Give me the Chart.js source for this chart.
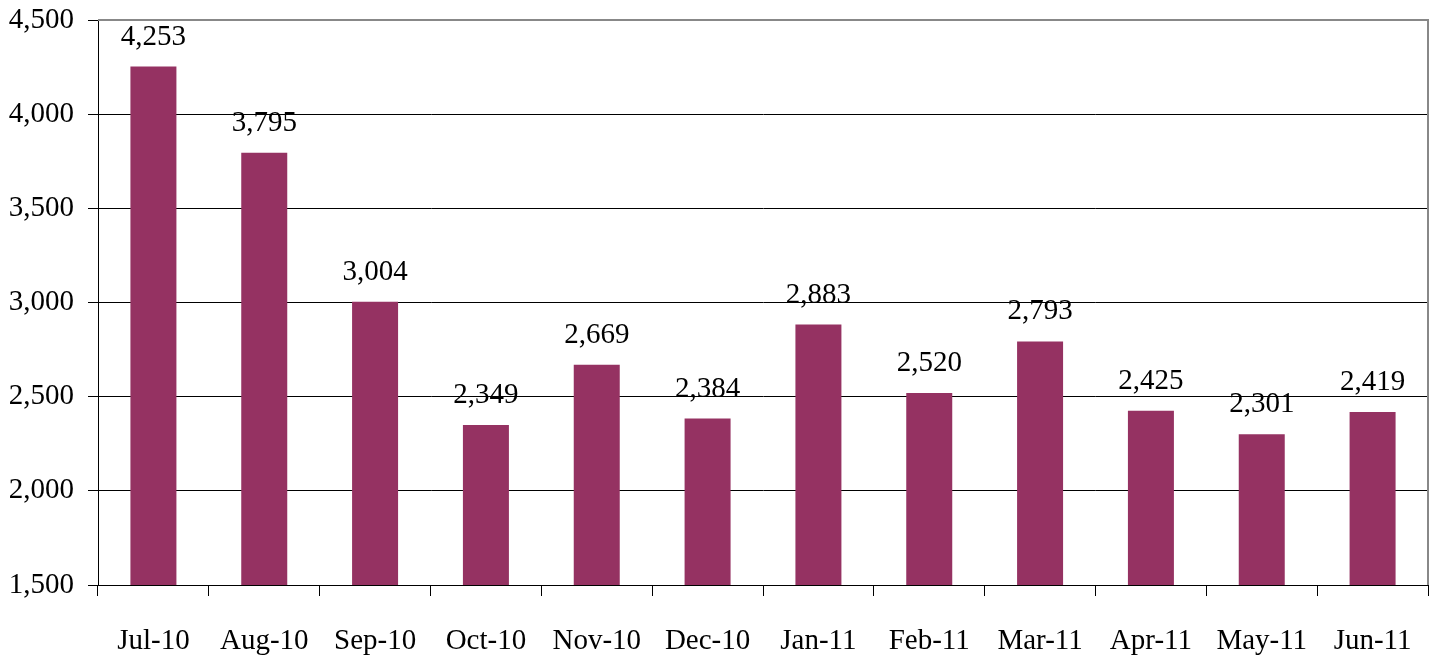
<!DOCTYPE html>
<html>
<head>
<meta charset="utf-8">
<script src="https://cdn.jsdelivr.net/npm/chart.js@4/dist/chart.umd.min.js"></script>
<style>
  html, body { margin: 0; padding: 0; background: #fff; }
  #wrap { width: 1437px; height: 663px; }
</style>
</head>
<body>
<div id="wrap"><canvas id="chart" width="1437" height="663"></canvas></div>
<script>
const months = ["Jul-10", "Aug-10", "Sep-10", "Oct-10", "Nov-10", "Dec-10",
                "Jan-11", "Feb-11", "Mar-11", "Apr-11", "May-11", "Jun-11"];
const counts = [4253, 3795, 3004, 2349, 2669, 2384, 2883, 2520, 2793, 2425, 2301, 2419];
const yMin = 1500;
const yMax = 4500;
const yStep = 500;

const serif = "'Liberation Serif', 'Times New Roman', serif";
const fmt = v => Number(v).toLocaleString("en-US");

// value labels above each bar
const barLabels = {
  id: "barLabels",
  afterDatasetsDraw(chart) {
    const ctx = chart.ctx;
    ctx.save();
    ctx.font = "29px " + serif;
    ctx.fillStyle = "#000";
    ctx.textAlign = "center";
    ctx.textBaseline = "alphabetic";
    chart.getDatasetMeta(0).data.forEach((bar, i) => {
      ctx.fillText(fmt(counts[i]), bar.x, bar.y - 22);
    });
    ctx.restore();
  }
};

// grey frame on the top and right of the plot area
const frame = {
  id: "frame",
  afterDraw(chart) {
    const a = chart.chartArea;
    const ctx = chart.ctx;
    ctx.save();
    ctx.strokeStyle = "#888";
    ctx.lineWidth = 2;
    ctx.beginPath();
    ctx.moveTo(a.left, a.top);
    ctx.lineTo(a.right, a.top);
    ctx.lineTo(a.right, a.bottom);
    ctx.stroke();
    ctx.restore();
  }
};

new Chart(document.getElementById("chart"), {
  type: "bar",
  data: {
    labels: months,
    datasets: [{
      data: counts,
      backgroundColor: "#953262",
      categoryPercentage: 1,
      barPercentage: 0.415
    }]
  },
  options: {
    responsive: false,
    animation: false,
    layout: { padding: { left: 0, right: 9, top: 20, bottom: 0 } },
    plugins: {
      legend: { display: false },
      tooltip: { enabled: false }
    },
    scales: {
      x: {
        offset: true,
        grid: {
          offset: true,
          drawOnChartArea: false,
          drawTicks: true,
          tickLength: 11,
          color: "#000"
        },
        border: { color: "#000", width: 1 },
        ticks: {
          font: { family: serif, size: 29 },
          color: "#000",
          padding: 28,
          maxRotation: 0,
          autoSkip: false
        },
        afterFit(scale) {
          scale.height = 78;
          scale.paddingLeft = 0;
          scale.paddingRight = 0;
        }
      },
      y: {
        min: yMin,
        max: yMax,
        grid: {
          color: c => (c.tick && c.tick.value === yMax) ? "#888" : "#000",
          tickColor: "#000",
          tickLength: 10,
          lineWidth: 1
        },
        border: { color: "#000", width: 1 },
        ticks: {
          stepSize: yStep,
          font: { family: serif, size: 29 },
          color: "#000",
          padding: 14,
          callback: v => fmt(v)
        },
        afterFit(scale) {
          scale.width = 98;
          scale.paddingTop = 0;
          scale.paddingBottom = 0;
        }
      }
    }
  },
  plugins: [barLabels, frame]
});
</script>
</body>
</html>
